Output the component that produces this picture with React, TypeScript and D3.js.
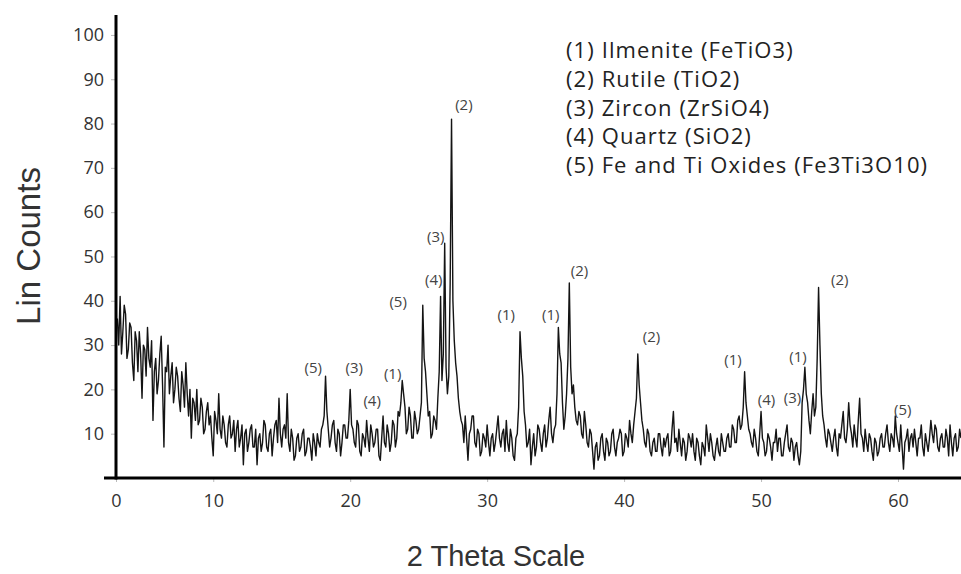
import React, { useEffect, useRef } from 'react';
import * as d3 from 'd3';

// intensities, one value every 0.1 deg 2-theta
const STEP = 0.1;
const counts03to13 = [36, 30, 41, 28, 33, 39, 37, 27, 29, 35, 34, 26, 22, 33, 31, 24, 33, 28, 18, 30,
  29, 23, 34, 27, 25, 31, 13, 24, 27, 19, 22, 28, 32, 21, 7, 25, 24, 30, 19, 23,
  26, 17, 20, 25, 23, 18, 15, 24, 21, 16, 26, 19, 14, 20, 9, 18, 17, 13, 20, 12,
  13, 18, 16, 10, 11, 15, 17, 12, 14, 9, 5, 15, 13, 10, 19, 11, 9, 14, 12, 8,
  7, 12, 14, 9, 10, 13, 6, 11, 13, 7, 9, 12, 3, 10, 11, 6, 8, 11, 12, 7];
const counts13to23 = [7, 11, 3, 9, 10, 6, 8, 13, 12, 7, 6, 10, 11, 5, 9, 12, 13, 8, 18, 10,
  7, 11, 12, 9, 19, 8, 6, 11, 9, 4, 5, 9, 10, 6, 7, 10, 11, 5, 6, 9,
  9, 7, 4, 10, 8, 5, 10, 8, 7, 11, 12, 14, 23, 15, 11, 7, 9, 12, 13, 8,
  6, 11, 10, 5, 8, 12, 12, 9, 9, 13, 20, 12, 11, 8, 7, 13, 12, 6, 5, 10,
  9, 7, 13, 9, 6, 12, 10, 7, 8, 11, 11, 5, 4, 9, 14, 8, 7, 12, 10, 6];
const counts23to33 = [8, 13, 12, 7, 9, 15, 14, 17, 22, 19, 16, 10, 11, 16, 14, 9, 9, 15, 13, 10,
  11, 14, 17, 39, 27, 24, 19, 14, 15, 9, 10, 14, 13, 11, 18, 24, 41, 22, 28, 53,
  25, 19, 23, 44, 81, 40, 31, 26, 23, 18, 15, 13, 12, 8, 14, 9, 4, 10, 11, 14,
  14, 8, 7, 11, 10, 5, 6, 10, 9, 7, 12, 8, 5, 9, 10, 6, 8, 11, 14, 9,
  7, 10, 11, 6, 13, 8, 6, 11, 9, 5, 4, 9, 10, 16, 33, 27, 23, 15, 12, 7];
const counts33to43 = [8, 11, 3, 7, 10, 5, 7, 12, 11, 8, 6, 10, 12, 7, 9, 13, 16, 10, 8, 11,
  12, 19, 34, 28, 26, 17, 11, 14, 19, 27, 44, 25, 19, 21, 16, 13, 12, 15, 14, 10,
  9, 15, 12, 8, 7, 11, 10, 6, 2, 7, 8, 4, 5, 9, 10, 6, 4, 9, 8, 5,
  6, 10, 11, 7, 5, 8, 9, 11, 10, 5, 6, 10, 9, 7, 13, 10, 8, 12, 15, 18,
  28, 21, 17, 13, 11, 8, 7, 11, 10, 6, 5, 8, 9, 6, 6, 10, 10, 7, 5, 9];
const counts43to53 = [7, 9, 10, 5, 6, 11, 15, 8, 9, 6, 11, 8, 5, 9, 8, 4, 6, 10, 9, 7,
  10, 6, 4, 9, 8, 5, 3, 8, 7, 5, 12, 9, 6, 10, 8, 5, 4, 7, 9, 6,
  5, 10, 8, 6, 6, 9, 10, 7, 7, 12, 11, 8, 8, 13, 14, 11, 12, 16, 24, 17,
  14, 11, 10, 8, 7, 11, 9, 6, 5, 10, 15, 9, 8, 5, 6, 10, 9, 7, 4, 8,
  8, 11, 6, 9, 9, 5, 5, 8, 10, 12, 7, 6, 9, 8, 4, 7, 8, 5, 3, 6];
const counts53to63 = [17, 20, 25, 19, 17, 13, 10, 15, 19, 14, 16, 27, 43, 30, 19, 14, 12, 9, 7, 11,
  10, 8, 6, 9, 11, 7, 5, 10, 9, 12, 15, 9, 8, 11, 17, 12, 10, 7, 12, 9,
  7, 13, 18, 10, 9, 6, 11, 8, 6, 10, 9, 6, 4, 9, 8, 5, 6, 9, 10, 7,
  7, 10, 12, 8, 6, 10, 9, 7, 14, 10, 8, 6, 12, 7, 2, 8, 9, 11, 6, 9,
  10, 7, 11, 8, 5, 9, 9, 12, 7, 5, 10, 8, 6, 9, 13, 10, 8, 12, 11, 7];
const counts63to65 = [6, 9, 10, 7, 7, 11, 9, 5, 12, 8, 5, 9, 10, 6, 7, 11, 9];

const segments: [number, number[]][] = [
  [3, counts03to13], [13, counts13to23], [23, counts23to33], [33, counts33to43],
  [43, counts43to53], [53, counts53to63], [63, counts63to65],
];

const yTicks = [10, 20, 30, 40, 50, 60, 70, 80, 90, 100];
const xTicks = [10, 20, 30, 40, 50, 60];

const legendItems = [
  '(1) Ilmenite (FeTiO3)',
  '(2) Rutile (TiO2)',
  '(3) Zircon (ZrSiO4)',
  '(4) Quartz (SiO2)',
  '(5) Fe and Ti Oxides (Fe3Ti3O10)',
];

// peak tags: label, 2-theta, counts where the tag sits
const peakTags: [string, number, number][] = [
  ['(5)', 17.3, 24.8], ['(3)', 20.3, 24.8], ['(4)', 21.6, 17.4], ['(1)', 23.1, 23.5],
  ['(5)', 23.5, 39.7], ['(4)', 26.1, 44.7], ['(3)', 26.25, 54.4], ['(2)', 28.3, 84.2],
  ['(1)', 31.4, 36.8], ['(1)', 34.65, 36.8], ['(2)', 36.75, 46.7], ['(2)', 42.0, 31.8],
  ['(1)', 47.95, 26.6], ['(4)', 50.4, 17.6], ['(3)', 52.3, 18.1], ['(1)', 52.7, 27.3],
  ['(2)', 55.75, 44.7], ['(5)', 60.35, 15.3],
];

const App = () => {
  const ref = useRef<SVGSVGElement>(null);

  useEffect(() => {
    const svg = d3.select(ref.current);
    svg.selectAll('*').remove();

    const x0 = 2.9;
    const x = d3.scaleLinear().domain([x0, 64.6]).range([116, 961]);
    const y = d3.scaleLinear().domain([0, 104.5]).range([478, 15]);

    const points: [number, number][] = segments.flatMap(([start, vals]) =>
      vals.map((v, i) => [start + i * STEP, v] as [number, number]));

    // pattern
    svg.append('path')
      .datum(points)
      .attr('fill', 'none')
      .attr('stroke', '#141414')
      .attr('stroke-width', 1.4)
      .attr('stroke-linejoin', 'round')
      .attr('d', d3.line<[number, number]>().x(d => x(d[0])).y(d => y(d[1])));

    // y axis
    const yAxis = svg.append('g').attr('transform', 'translate(116,0)')
      .call(d3.axisLeft(y).tickValues(yTicks).tickSize(5).tickPadding(7));
    yAxis.select('.domain').remove();
    yAxis.selectAll('line').attr('stroke', '#bbb');
    yAxis.selectAll('text')
      .attr('font-family', 'Open Sans, sans-serif')
      .attr('font-size', 18)
      .attr('fill', '#333');

    // x axis, origin labelled 0
    const xAxis = svg.append('g').attr('transform', 'translate(0,478)')
      .call(d3.axisBottom(x).tickValues([x0, ...xTicks])
        .tickFormat(d => (d === x0 ? '0' : String(d))).tickSize(4).tickPadding(12));
    xAxis.select('.domain').remove();
    xAxis.selectAll('line').attr('stroke', '#bbb');
    xAxis.selectAll('text')
      .attr('font-family', 'Open Sans, sans-serif')
      .attr('font-size', 18)
      .attr('fill', '#333');

    svg.append('line')
      .attr('x1', 104).attr('x2', 961).attr('y1', y(0)).attr('y2', y(0))
      .attr('stroke', '#000').attr('stroke-width', 3);
    svg.append('line')
      .attr('x1', x(x0)).attr('x2', x(x0)).attr('y1', y(0) + 1.5).attr('y2', y(104.5))
      .attr('stroke', '#000').attr('stroke-width', 3);

    // axis titles
    svg.append('text')
      .attr('x', 496).attr('y', 566)
      .attr('text-anchor', 'middle')
      .attr('font-family', 'Liberation Sans, Arial, sans-serif')
      .attr('font-size', 29)
      .attr('fill', '#333')
      .text('2 Theta Scale');
    svg.append('text')
      .attr('transform', 'translate(40,246) rotate(-90)')
      .attr('text-anchor', 'middle')
      .attr('font-family', 'Liberation Sans, Arial, sans-serif')
      .attr('font-size', 33)
      .attr('fill', '#333')
      .text('Lin Counts');

    // legend
    svg.append('g')
      .selectAll('text')
      .data(legendItems)
      .join('text')
      .attr('x', 566)
      .attr('y', (_, i) => 58 + i * 28.8)
      .attr('font-family', 'Open Sans, sans-serif')
      .attr('font-size', 22)
      .attr('letter-spacing', 1.1)
      .attr('fill', '#222')
      .text(d => d);

    // peak tags
    svg.append('g')
      .selectAll('text')
      .data(peakTags)
      .join('text')
      .attr('x', d => x(d[1]))
      .attr('y', d => y(d[2]))
      .attr('dy', '0.35em')
      .attr('text-anchor', 'middle')
      .attr('font-family', 'Open Sans, sans-serif')
      .attr('font-size', 15)
      .attr('fill', '#444')
      .text(d => d[0]);
  }, []);

  return (
    <svg ref={ref} width={961} height={574}
      style={{ position: 'absolute', left: 0, top: 0, background: '#fff' }} />
  );
};

export default App;
